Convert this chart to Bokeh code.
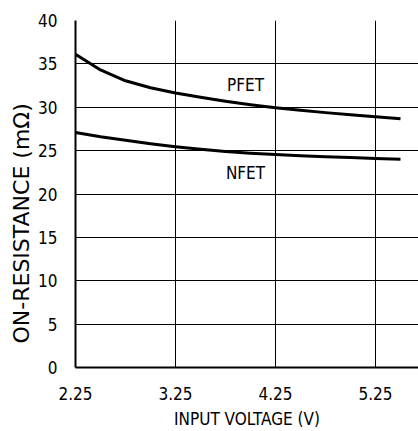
import math
from bokeh.plotting import figure
from bokeh.models import Label, Range1d, FixedTicker, Title
from bokeh.embed import file_html
from bokeh.resources import INLINE

voltage = [2.25, 2.5, 2.75, 3.0, 3.25, 3.5, 3.75, 4.0, 4.25, 4.5, 4.75, 5.0, 5.25, 5.5]
pfet = [36.1, 34.3, 33.05, 32.25, 31.65, 31.15, 30.7, 30.3, 29.95, 29.65, 29.38, 29.13, 28.9, 28.68]
nfet = [27.1, 26.6, 26.2, 25.8, 25.45, 25.15, 24.9, 24.7, 24.55, 24.42, 24.3, 24.2, 24.1, 24.02]
x_ticks = [2.25, 3.25, 4.25, 5.25]
y_ticks = [0, 5, 10, 15, 20, 25, 30, 35, 40]

FONT = "'Liberation Sans Narrow', 'DejaVu Sans Condensed', sans-serif"

p = figure(width=418, height=431, output_backend="svg", toolbar_location=None,
           x_range=Range1d(2.25, 5.68), y_range=Range1d(0, 40),
           min_border_left=75, min_border_top=20, min_border_bottom=59, min_border_right=0)
p.outline_line_color = None
p.background_fill_color = "white"
p.border_fill_color = "white"

for ax in (p.xaxis[0], p.yaxis[0]):
    ax.major_tick_line_color = None
    ax.minor_tick_line_color = None
    ax.axis_line_color = "black"
    ax.axis_line_width = 2
    ax.major_label_text_font = FONT
    ax.major_label_text_font_size = "17px"
    ax.major_label_text_font_style = "normal"
    ax.major_label_text_color = "black"

p.xaxis[0].ticker = FixedTicker(ticks=x_ticks)
p.yaxis[0].ticker = FixedTicker(ticks=y_ticks)
p.xaxis[0].major_label_standoff = 13
p.yaxis[0].major_label_standoff = 12
p.xaxis[0].axis_label = "INPUT VOLTAGE (V)"
p.xaxis[0].axis_label_text_font = FONT
p.xaxis[0].axis_label_text_font_size = "17px"
p.xaxis[0].axis_label_text_font_style = "normal"
p.xaxis[0].axis_label_text_color = "black"
p.xaxis[0].axis_label_standoff = 6

p.xgrid.ticker = FixedTicker(ticks=x_ticks)
p.ygrid.ticker = FixedTicker(ticks=y_ticks)
p.grid.grid_line_color = "black"
p.grid.grid_line_width = 1
p.grid.grid_line_alpha = 1.0

p.line(voltage, pfet, line_color="black", line_width=3, line_join="round")
p.line(voltage, nfet, line_color="black", line_width=3, line_join="round")

p.add_layout(Label(x=3.95, y=32.6, text="PFET", text_font=FONT, text_font_size="17px",
                   text_align="center", text_baseline="middle", text_color="black"))
p.add_layout(Label(x=3.95, y=22.4, text="NFET", text_font=FONT, text_font_size="17px",
                   text_align="center", text_baseline="middle", text_color="black"))

# y-axis title as a side title, anchored near the bottom of the frame
p.add_layout(Title(text="ON-RESISTANCE (mΩ)", align="left", offset=24,
                   text_font="'DejaVu Sans', sans-serif", text_font_size="22px",
                   text_font_style="normal", text_color="black", standoff=4), "left")

out = file_html(p, INLINE)
open("out.html", "w").write(out)
